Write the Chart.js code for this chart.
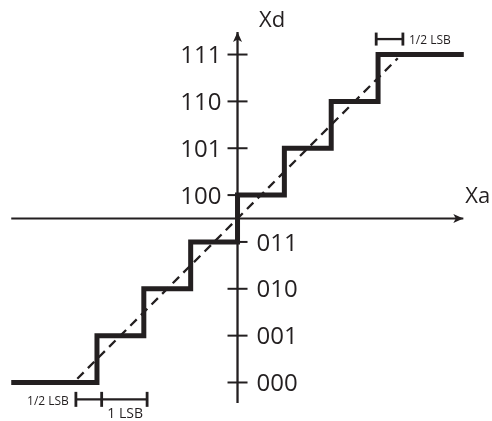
<!DOCTYPE html>
<html><head><meta charset="utf-8">
<script src="https://cdn.jsdelivr.net/npm/chart.js@4"></script>
<style>html,body{margin:0;padding:0;background:#fff}#wrap{width:492px;height:421px}</style>
</head><body><div id="wrap"><canvas id="c" width="492" height="421"></canvas></div>
<script>
// ---- data ----
const codeLabels = ['000','001','010','011','100','101','110','111'];
const codeLevels = [-3.5,-2.5,-1.5,-0.5,0.5,1.5,2.5,3.5];
const stairX = [-4.83,-3,-2,-1,0,1,2,3,4.83];
const stairY = [-3.5,-2.5,-1.5,-0.5,0.5,1.5,2.5,3.5,3.5];
const idealX = [-3.42,3.42];
const idealY = [-3.42,3.42];
const bracketLowX = [-3.45,-2.9,-1.93];
const bracketLowY = [-3.86,-3.86,-3.86];
const bracketHighX = [2.96,3.53];
const bracketHighY = [3.83,3.83];
const axisXRange = [-4.83,4.82];
const axisYRange = [-3.94,3.98];
const axisTitles = ['Xa','Xd'];
const bracketTexts = ['1/2 LSB','1/2 LSB','1 LSB'];

// ---- styling / placement (not data) ----
const INK = '#231f20';
const FONT = '"Open Sans", "Noto Sans", sans-serif';
const textItems = [
  {text: axisTitles[1], x: 0.46, y: 4.09, align: 'left', size: 22},
  {text: axisTitles[0], x: 4.86, y: 0.33, align: 'left', size: 22},
  {text: bracketTexts[0], x: 3.66, y: 3.72, align: 'left', size: 12},
  {text: bracketTexts[1], x: -3.60, y: -3.98, align: 'right', size: 12},
  {text: bracketTexts[2], x: -2.78, y: -4.26, align: 'left', size: 14}
];

const pts = (xs, ys) => xs.map((x, i) => ({x, y: ys[i]}));

const overlay = {
  id: 'overlay',
  afterDatasetsDraw(chart) {
    const ctx = chart.ctx, sx = chart.scales.x, sy = chart.scales.y;
    ctx.save();
    ctx.fillStyle = INK;
    // arrowheads
    const tipX = sx.getPixelForValue(axisXRange[1]), ax0 = sy.getPixelForValue(0);
    ctx.beginPath();
    ctx.moveTo(tipX, ax0);
    ctx.lineTo(tipX - 10, ax0 - 4.5);
    ctx.lineTo(tipX - 7.5, ax0);
    ctx.lineTo(tipX - 10, ax0 + 4.5);
    ctx.closePath(); ctx.fill();
    const tipY = sy.getPixelForValue(axisYRange[1]), ay0 = sx.getPixelForValue(0);
    ctx.beginPath();
    ctx.moveTo(ay0, tipY);
    ctx.lineTo(ay0 - 4.5, tipY + 10);
    ctx.lineTo(ay0, tipY + 7.5);
    ctx.lineTo(ay0 + 4.5, tipY + 10);
    ctx.closePath(); ctx.fill();
    // tick labels
    const fs = 24;
    ctx.font = fs + 'px ' + FONT;
    ctx.textBaseline = 'alphabetic';
    codeLabels.forEach((lab, i) => {
      const v = codeLevels[i];
      const py = sy.getPixelForValue(v) + fs * 0.357;
      if (v > 0) { ctx.textAlign = 'right'; ctx.fillText(lab, ay0 - 16, py); }
      else { ctx.textAlign = 'left'; ctx.fillText(lab, ay0 + 19, py); }
    });
    // other texts
    textItems.forEach(t => {
      ctx.font = t.size + 'px ' + FONT;
      ctx.textAlign = t.align;
      ctx.fillText(t.text, sx.getPixelForValue(t.x), sy.getPixelForValue(t.y));
    });
    ctx.restore();
  }
};

new Chart(document.getElementById('c'), {
  type: 'scatter',
  data: {
    datasets: [
      {label: 'staircase', data: pts(stairX, stairY), showLine: true, stepped: true,
       borderColor: INK, borderWidth: 5, borderJoinStyle: 'miter', borderCapStyle: 'butt',
       pointRadius: 0, order: 0, clip: false},
      {label: 'ideal', data: pts(idealX, idealY), showLine: true, borderColor: INK,
       borderWidth: 2.3, borderDash: [9, 6], pointRadius: 0, order: 1, clip: false},
      {label: 'x axis', data: pts(axisXRange, [0, 0]), showLine: true, borderColor: INK,
       borderWidth: 2, pointRadius: 0, order: 2, clip: false},
      {label: 'y axis', data: pts([0, 0], axisYRange), showLine: true, borderColor: INK,
       borderWidth: 2.3, pointRadius: 0, order: 2, clip: false},
      {label: 'ticks', data: pts(codeLevels.map(() => 0), codeLevels), showLine: false,
       pointStyle: 'line', pointRadius: 10, pointBorderWidth: 2, pointBorderColor: INK,
       borderColor: INK, order: 3, clip: false},
      {label: 'bracket low', data: pts(bracketLowX, bracketLowY), showLine: true,
       borderColor: INK, borderWidth: 2.3, pointStyle: 'line', pointRotation: 90,
       pointRadius: 7.5, pointBorderWidth: 2.8, pointBorderColor: INK, order: 3, clip: false},
      {label: 'bracket high', data: pts(bracketHighX, bracketHighY), showLine: true,
       borderColor: INK, borderWidth: 2.3, pointStyle: 'line', pointRotation: 90,
       pointRadius: 6.5, pointBorderWidth: 2.8, pointBorderColor: INK, order: 3, clip: false}
    ]
  },
  options: {
    responsive: false,
    animation: false,
    events: [],
    layout: {autoPadding: false, padding: 0},
    plugins: {legend: {display: false}, tooltip: {enabled: false}, title: {display: false}},
    scales: {
      x: {type: 'linear', min: -5.07, max: 5.432, display: false},
      y: {type: 'linear', min: -4.322, max: 4.664, display: false}
    }
  },
  plugins: [overlay]
});
</script></body></html>
